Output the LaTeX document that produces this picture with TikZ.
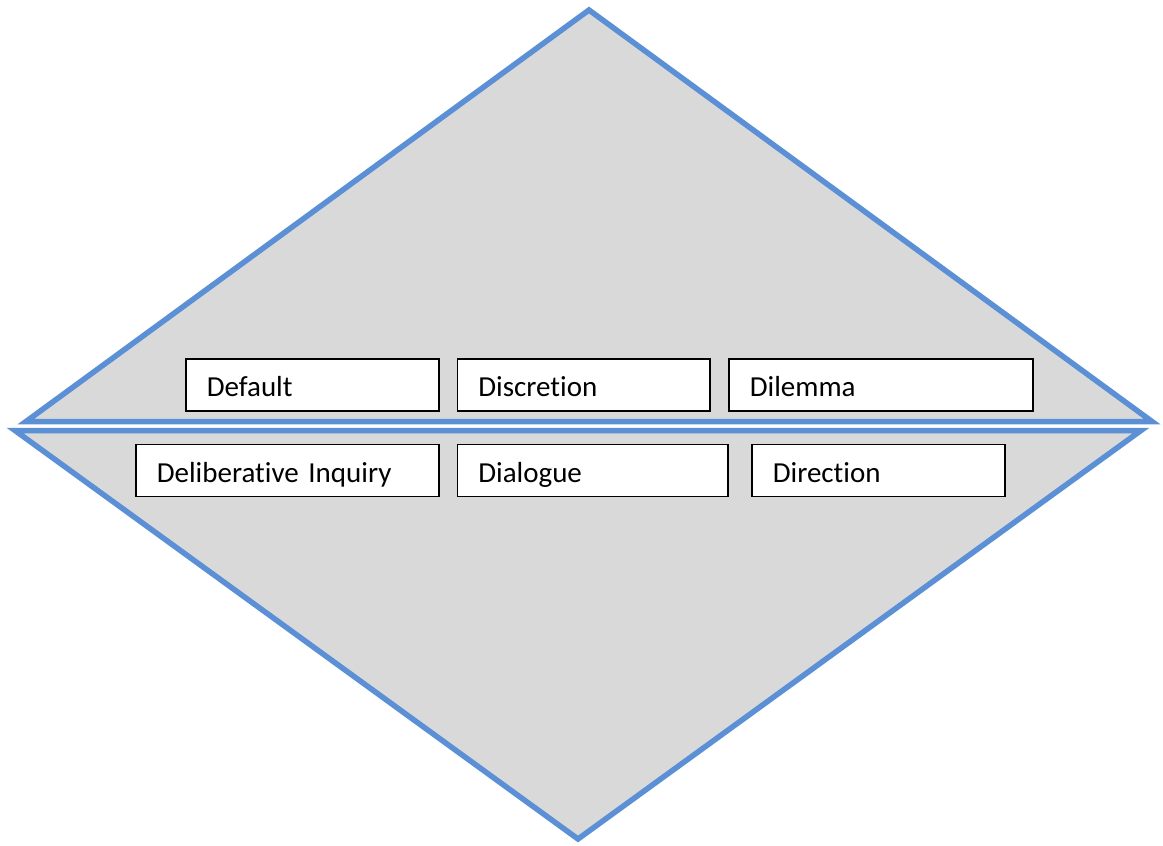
\documentclass[tikz,border=0pt]{standalone}
\usepackage{fontspec}
\setmainfont[RawFeature={-liga;-clig;-dlig;-calt}]{Carlito}
\definecolor{edgeblue}{HTML}{5B8FD6}
\definecolor{fillgrey}{HTML}{D9D9D9}
\begin{document}
\begin{tikzpicture}[x=1pt,y=-1pt,
  tri/.style={draw=edgeblue, fill=fillgrey, line width=5.5pt, line join=miter},
  term/.style={draw=black, fill=white, line width=1.6pt, anchor=north west,
    align=left, inner xsep=21pt, inner ysep=0pt, minimum height=52pt,
    text height=24pt, text depth=0pt, font=\fontsize{29}{32}\selectfont}]
  \useasboundingbox (0,0) rectangle (1163,846);
  % upper triangle and inverted lower triangle
  \path[tri] (26,421.5) -- (589,10) -- (1152,421.5) -- cycle;
  \path[tri] (15,430.5) -- (1141,430.5) -- (578,839) -- cycle;
  % upper row of terms
  \node[term, text width=211pt] (default) at (185,358) {Default};
  \node[term, text width=210.5pt] (discretion) at (456.5,358) {Discretion};
  \node[term, text width=262pt] (dilemma) at (728,358) {Dilemma};
  % lower row of terms
  \node[term, text width=261pt] (inquiry) at (135,443.5) {Deliberative Inquiry};
  \node[term, text width=228.5pt] (dialogue) at (456.5,443.5) {Dialogue};
  \node[term, text width=211pt] (direction) at (751,443.5) {Direction};
\end{tikzpicture}
\end{document}
